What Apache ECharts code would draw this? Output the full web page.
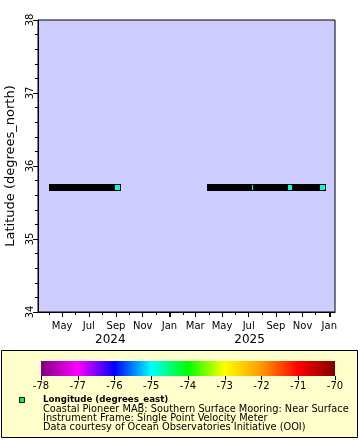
<!DOCTYPE html>
<html>
<head>
<meta charset="utf-8">
<script src="https://cdn.jsdelivr.net/npm/echarts@6/dist/echarts.min.js"></script>
<style>
html,body{margin:0;padding:0;background:#fff;}
#c{width:360px;height:440px;}
</style>
</head>
<body>
<div id="c"></div>
<script>
// ---------- data ----------
const xRange = ['2024-03-07', '2026-01-14'];
const tickMonths = ['2024-04-01','2024-05-01','2024-06-01','2024-07-01','2024-08-01','2024-09-01','2024-10-01','2024-11-01','2024-12-01','2025-01-01','2025-02-01','2025-03-01','2025-04-01','2025-05-01','2025-06-01','2025-07-01','2025-08-01','2025-09-01','2025-10-01','2025-11-01','2025-12-01','2026-01-01'];
const labelMonths = ['2024-05-01','2024-07-01','2024-09-01','2024-11-01','2025-01-01','2025-03-01','2025-05-01','2025-07-01','2025-09-01','2025-11-01','2026-01-01'];
const janTicks = ['2025-01-01','2026-01-01'];
const yearLabelDates = ['2024-08-19','2025-07-03'];
const monthNames = ['Jan','Feb','Mar','Apr','May','Jun','Jul','Aug','Sep','Oct','Nov','Dec'];

// observation runs (continuous coverage)
const runStart = ['2024-04-08','2025-04-04','2025-07-17','2025-10-14'];
const runEnd   = ['2024-09-04','2025-07-13','2025-10-03','2025-12-15'];
const runLat   = [35.712, 35.712, 35.712, 35.712];
const runLon   = [-74.84, -74.84, -74.84, -74.84];

const yRange = [34, 38];
const lonRange = [-78, -70];
const palette = ['#800080','#ff00ff','#0000ff','#00ffff','#00ff00','#ffff00','#ff9900','#ff0000','#800000'];

const legendLines = [
  'Coastal Pioneer MAB: Southern Surface Mooring: Near Surface',
  'Instrument Frame: Single Point Velocity Meter',
  'Data courtesy of Ocean Observatories Initiative (OOI)'
];

// ---------- build ----------
const t = s => Date.parse(s + 'T00:00:00Z');
const FONT = 'DejaVu Sans';
const runData = runStart.map((s, i) => [t(s), t(runEnd[i]), runLat[i], runLon[i]]);

const baseX = {
  type: 'value', gridIndex: 0, min: t(xRange[0]), max: t(xRange[1]),
  position: 'bottom', splitLine: {show: false}
};

const chart = echarts.init(document.getElementById('c'), null, {renderer: 'canvas'});
chart.setOption({
  backgroundColor: '#ffffff',
  animation: false,
  textStyle: {fontFamily: FONT},
  grid: [
    {left: 38, top: 20, width: 297, height: 292, show: true, backgroundColor: '#ccccff', borderColor: '#000', borderWidth: 1, containLabel: false, outerBoundsMode: 'none'},
    {left: 41, top: 361, width: 294, height: 15, show: false, containLabel: false, outerBoundsMode: 'none'}
  ],
  xAxis: [
    Object.assign({}, baseX, {
      axisLine: {show: true, lineStyle: {color: '#000', width: 1}},
      axisTick: {show: true, customValues: tickMonths.map(t), length: 3, lineStyle: {color: '#000'}},
      axisLabel: {show: true, customValues: labelMonths.map(t), color: '#000', fontSize: 10, fontFamily: FONT, margin: 9,
        formatter: v => monthNames[new Date(v).getUTCMonth()]}
    }),
    Object.assign({}, baseX, {
      axisLine: {show: false},
      axisTick: {show: true, customValues: labelMonths.map(t), length: 5, lineStyle: {color: '#000'}},
      axisLabel: {show: false}
    }),
    Object.assign({}, baseX, {
      axisLine: {show: false},
      axisTick: {show: true, customValues: janTicks.map(t), length: 5, lineStyle: {color: '#000', width: 2}},
      axisLabel: {show: false}
    }),
    Object.assign({}, baseX, {
      axisLine: {show: false},
      axisTick: {show: false},
      axisLabel: {show: true, customValues: yearLabelDates.map(t), color: '#000', fontSize: 12, fontFamily: FONT, margin: 22,
        formatter: v => String(new Date(v).getUTCFullYear())}
    }),
    {
      type: 'value', gridIndex: 1, min: lonRange[0], max: lonRange[1], interval: 1, position: 'bottom',
      axisLine: {show: false},
      axisTick: {show: true, length: 4, lineStyle: {color: '#000'}},
      axisLabel: {color: '#000', fontSize: 10, fontFamily: FONT, margin: 5},
      splitLine: {show: false}
    }
  ],
  yAxis: [
    {
      type: 'value', gridIndex: 0, min: yRange[0], max: yRange[1], interval: 1,
      axisLine: {show: true, lineStyle: {color: '#000'}},
      axisTick: {show: true, length: 5, lineStyle: {color: '#000'}},
      minorTick: {show: true, splitNumber: 5, length: 3, lineStyle: {color: '#000'}},
      axisLabel: {rotate: 90, color: '#000', fontSize: 10, fontFamily: FONT, margin: 3},
      splitLine: {show: false},
      name: 'Latitude (degrees_north)', nameLocation: 'middle', nameGap: 14,
      nameTextStyle: {color: '#000', fontSize: 13, fontFamily: FONT}
    },
    {type: 'value', gridIndex: 1, min: 0, max: 1, show: false}
  ],
  visualMap: [{
    show: false, type: 'continuous', seriesIndex: 0, dimension: 3,
    min: lonRange[0], max: lonRange[1], inRange: {color: palette}
  }],
  graphic: [
    {type: 'rect', z: -1, shape: {x: 1.5, y: 350.5, width: 356, height: 87},
      style: {fill: '#ffffcc', stroke: '#000', lineWidth: 1}},
    {type: 'rect', z: 5, shape: {x: 19.5, y: 397.5, width: 5, height: 5},
      style: {fill: '#00ff00', stroke: '#000', lineWidth: 1}},
    {type: 'text', z: 5, x: 43, y: 400, style: {text: 'Longitude (degrees_east)', fill: '#000', font: 'bold 8.7px "DejaVu Sans"', textVerticalAlign: 'middle'}},
    {type: 'text', z: 5, x: 43, y: 409, style: {text: legendLines[0], fill: '#000', font: '9.8px "DejaVu Sans"', textVerticalAlign: 'middle'}},
    {type: 'text', z: 5, x: 43, y: 418, style: {text: legendLines[1], fill: '#000', font: '9.8px "DejaVu Sans"', textVerticalAlign: 'middle'}},
    {type: 'text', z: 5, x: 43, y: 427, style: {text: legendLines[2], fill: '#000', font: '9.8px "DejaVu Sans"', textVerticalAlign: 'middle'}}
  ],
  series: [
    {
      type: 'custom', xAxisIndex: 0, yAxisIndex: 0, clip: true,
      data: runData,
      renderItem: function (params, api) {
        const p0 = api.coord([api.value(0), api.value(2)]);
        const p1 = api.coord([api.value(1), api.value(2)]);
        const x0 = Math.round(p0[0]), x1 = Math.round(p1[0]), cy = Math.round(p0[1]);
        return {type: 'group', children: [
          {type: 'rect', shape: {x: x0 - 3, y: cy - 3, width: x1 - x0 + 7, height: 7}, style: {fill: '#000'}},
          {type: 'rect', shape: {x: x1 - 2, y: cy - 2, width: 5, height: 5}, style: {fill: api.visual('color')}}
        ]};
      }
    },
    {
      type: 'custom', xAxisIndex: 4, yAxisIndex: 1,
      data: [[lonRange[0], lonRange[1]]],
      renderItem: function (params, api) {
        const a = api.coord([api.value(0), 0]);
        const b = api.coord([api.value(1), 1]);
        const stops = palette.map((c, i) => ({offset: i / (palette.length - 1), color: c}));
        return {type: 'rect', shape: {x: a[0], y: b[1], width: b[0] - a[0], height: a[1] - b[1]},
          style: {fill: new echarts.graphic.LinearGradient(0, 0, 1, 0, stops)}};
      }
    }
  ]
});
</script>
</body>
</html>
